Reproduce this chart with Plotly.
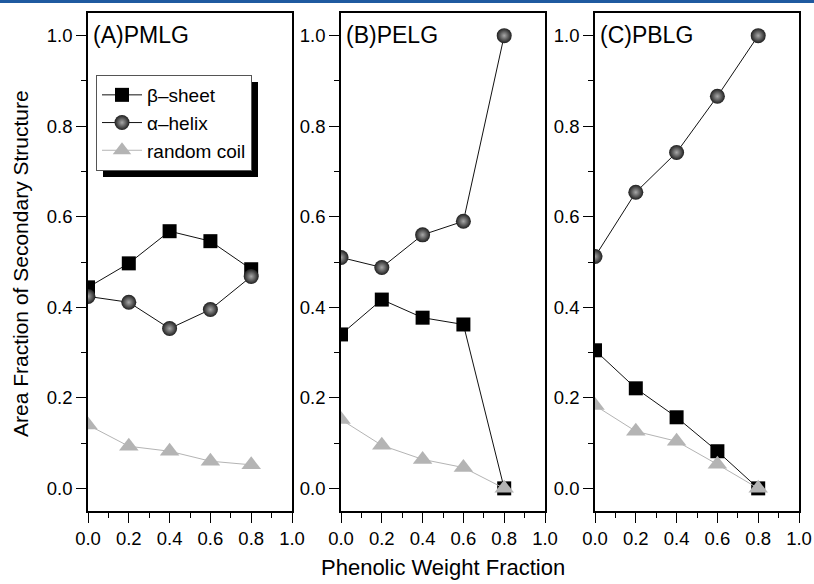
import plotly.graph_objects as go

W, H = 814, 584
x_vals = [0.0, 0.2, 0.4, 0.6, 0.8]
panels = ["(A)PMLG", "(B)PELG", "(C)PBLG"]
series_names = ["β–sheet", "α–helix", "random coil"]

beta_sheet = [
    [0.444, 0.497, 0.568, 0.546, 0.484],
    [0.340, 0.417, 0.377, 0.362, 0.000],
    [0.305, 0.221, 0.157, 0.082, 0.000],
]
alpha_helix = [
    [0.424, 0.411, 0.353, 0.395, 0.468],
    [0.510, 0.488, 0.560, 0.590, 1.000],
    [0.512, 0.654, 0.742, 0.866, 1.000],
]
random_coil = [
    [0.140, 0.093, 0.082, 0.060, 0.052],
    [0.152, 0.095, 0.064, 0.046, 0.000],
    [0.183, 0.126, 0.104, 0.053, 0.000],
]

FONT = "Arial, Liberation Sans, sans-serif"
px_x = [(88, 292), (341, 545), (595, 799)]
top_px, bot_px = 13, 511

fig = go.Figure()

for i in range(3):
    ax = "" if i == 0 else str(i + 1)
    xa, ya = "x" + ax, "y" + ax
    show = i == 0
    fig.add_trace(go.Scatter(
        x=x_vals, y=beta_sheet[i], mode="lines+markers", name=series_names[0],
        legendgroup="bs", showlegend=show, legendrank=1,
        line=dict(color="#111111", width=1),
        marker=dict(symbol="square", size=14, color="#000000"),
        xaxis=xa, yaxis=ya))
    fig.add_trace(go.Scatter(
        x=x_vals, y=alpha_helix[i], mode="lines+markers", name=series_names[1],
        legendgroup="ah", showlegend=show, legendrank=2,
        line=dict(color="#111111", width=1),
        marker=dict(symbol="circle", size=15, color="#1e1e1e",
                    gradient=dict(type="radial", color="#a8a8a8")),
        xaxis=xa, yaxis=ya))
    fig.add_trace(go.Scatter(
        x=x_vals, y=random_coil[i], mode="lines+markers", name=series_names[2],
        legendgroup="rc", showlegend=show, legendrank=3,
        line=dict(color="#b4b4b4", width=1),
        marker=dict(symbol="triangle-up", size=17, color="#b4b4b4"),
        xaxis=xa, yaxis=ya))

    xd = [px_x[i][0] / W, px_x[i][1] / W]
    yd = [1 - bot_px / H, 1 - top_px / H]
    axis_common = dict(showline=True, linecolor="black", linewidth=1.5, mirror=True,
                       ticks="outside", ticklen=10, tickwidth=1.2, tickcolor="black",
                       showgrid=False, zeroline=False, automargin=False,
                       tickfont=dict(family=FONT, size=18.5, color="black"),
                       minor=dict(ticks="outside", ticklen=5, tickwidth=1.2,
                                  tickcolor="black", dtick=0.1, showgrid=False))
    fig.layout["xaxis" + ax] = dict(domain=xd, range=[0, 1.0], dtick=0.2, tick0=0,
                                    tickformat=".1f", anchor=ya, **axis_common)
    fig.layout["yaxis" + ax] = dict(domain=yd, range=[-0.05, 1.05], dtick=0.2, tick0=0,
                                    tickformat=".1f", anchor=xa, **axis_common)
    fig.add_annotation(text=panels[i], xref="paper", yref="paper",
                       x=(px_x[i][0] + 3) / W, y=1 - 20 / H, xanchor="left", yanchor="top",
                       showarrow=False, font=dict(family=FONT, size=23, color="black"))

# legend shadow
fig.add_shape(type="rect", xref="paper", yref="paper",
              x0=103 / W, x1=258 / W, y0=1 - 177 / H, y1=1 - 82 / H,
              fillcolor="black", line=dict(width=0), layer="above")
# top header bar
fig.add_shape(type="rect", xref="paper", yref="paper",
              x0=0, x1=1, y0=1 - 3 / H, y1=1,
              fillcolor="#1f5aa0", line=dict(width=0), layer="above")

fig.add_annotation(text="Area Fraction of Secondary Structure", xref="paper", yref="paper",
                   x=20 / W, y=1 - 264 / H, textangle=-90, showarrow=False,
                   xanchor="center", yanchor="middle",
                   font=dict(family=FONT, size=21, color="black"))
fig.add_annotation(text="Phenolic Weight Fraction", xref="paper", yref="paper",
                   x=443 / W, y=1 - 567 / H, showarrow=False,
                   xanchor="center", yanchor="middle",
                   font=dict(family=FONT, size=22, color="black"))

fig.update_layout(
    width=W, height=H, margin=dict(l=0, r=0, t=0, b=0, autoexpand=False),
    plot_bgcolor="white", paper_bgcolor="white",
    legend=dict(x=96 / W, y=1 - 75 / H, xanchor="left", yanchor="top",
                bgcolor="white", bordercolor="#555555", borderwidth=1,
                font=dict(family=FONT, size=19, color="black"),
                tracegroupgap=0, itemwidth=40, traceorder="normal"),
    showlegend=True,
)

fig.write_html("out.html")
